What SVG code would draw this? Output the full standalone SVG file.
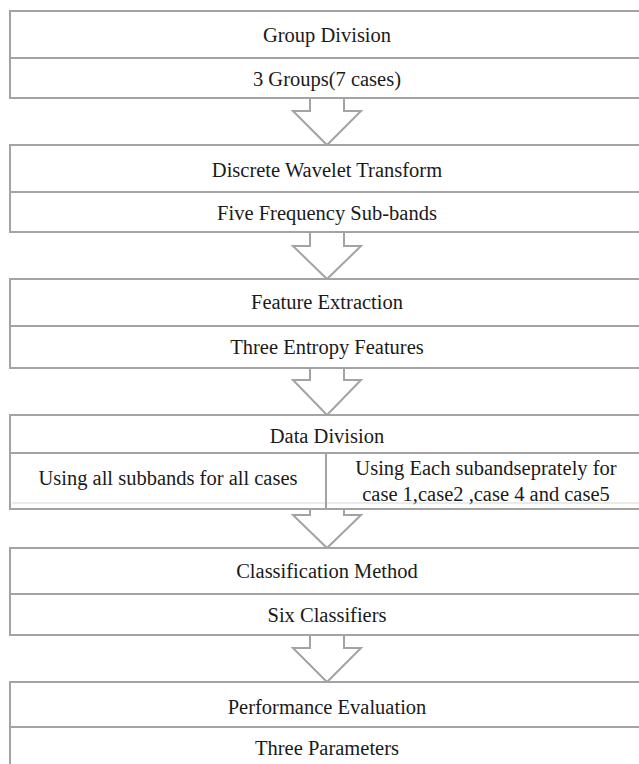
<svg xmlns="http://www.w3.org/2000/svg" width="639" height="764" viewBox="0 0 639 764">
<style>
.box{fill:#ffffff;stroke:#a3a3a3;stroke-width:2}
.ln{fill:none;stroke:#a3a3a3;stroke-width:2}
.faint{fill:none;stroke:#e4e4e4;stroke-width:1.5}
.arr{fill:#ffffff;stroke:#a3a3a3;stroke-width:2;stroke-linejoin:miter}
.t{font-family:"Liberation Serif","Times New Roman",serif;font-size:20.5px;fill:#1a1a1a;text-anchor:middle}
</style>
<rect width="639" height="764" fill="#ffffff"/>
<g id="connectors">
<polyline class="arr" points="310,98 310,111 293,111 327,145 361,111 344,111 344,98"/>
<polyline class="arr" points="310,232 310,246 293,246 327,279 361,246 344,246 344,232"/>
<polyline class="arr" points="310,368 310,380 293,380 327,415 361,380 344,380 344,368"/>
<polyline class="arr" points="310,503 310,515 293,515 327,548 361,515 344,515 344,503"/>
<polyline class="arr" points="310,635 310,648 293,648 327,682 361,648 344,648 344,635"/>
</g>
<g id="group-division">
<rect class="box" x="10" y="11" width="640" height="87"/>
<line class="ln" x1="10" y1="58" x2="650" y2="58"/>
<text class="t" x="327" y="42">Group Division</text>
<text class="t" x="327" y="86">3 Groups(7 cases)</text>
</g>
<g id="dwt">
<rect class="box" x="10" y="145" width="640" height="87"/>
<line class="ln" x1="10" y1="192" x2="650" y2="192"/>
<text class="t" x="327" y="177">Discrete Wavelet Transform</text>
<text class="t" x="327" y="220">Five Frequency Sub-bands</text>
</g>
<g id="feature-extraction">
<rect class="box" x="10" y="279" width="640" height="89"/>
<line class="ln" x1="10" y1="326" x2="650" y2="326"/>
<text class="t" x="327" y="309">Feature Extraction</text>
<text class="t" x="327" y="354">Three Entropy Features</text>
</g>
<g id="data-division">
<rect class="box" x="10" y="415" width="640" height="94"/>
<line class="ln" x1="10" y1="453" x2="650" y2="453"/>
<line class="ln" x1="326" y1="453" x2="326" y2="509"/>
<line class="faint" x1="12" y1="503" x2="325" y2="503"/>
<line class="faint" x1="327" y1="503" x2="639" y2="503"/>
<text class="t" x="327" y="443">Data Division</text>
<text class="t" x="168" y="485">Using all subbands for all cases</text>
<text class="t" x="486" y="475">Using Each subandseprately for</text>
<text class="t" x="486" y="501">case 1,case2 ,case 4 and case5</text>
</g>
<g id="classification">
<rect class="box" x="10" y="548" width="640" height="87"/>
<line class="ln" x1="10" y1="594" x2="650" y2="594"/>
<text class="t" x="327" y="578">Classification Method</text>
<text class="t" x="327" y="622">Six Classifiers</text>
</g>
<g id="performance">
<rect class="box" x="10" y="682" width="640" height="100"/>
<line class="ln" x1="10" y1="727" x2="650" y2="727"/>
<text class="t" x="327" y="714">Performance Evaluation</text>
<text class="t" x="327" y="755">Three Parameters</text>
</g>
</svg>
